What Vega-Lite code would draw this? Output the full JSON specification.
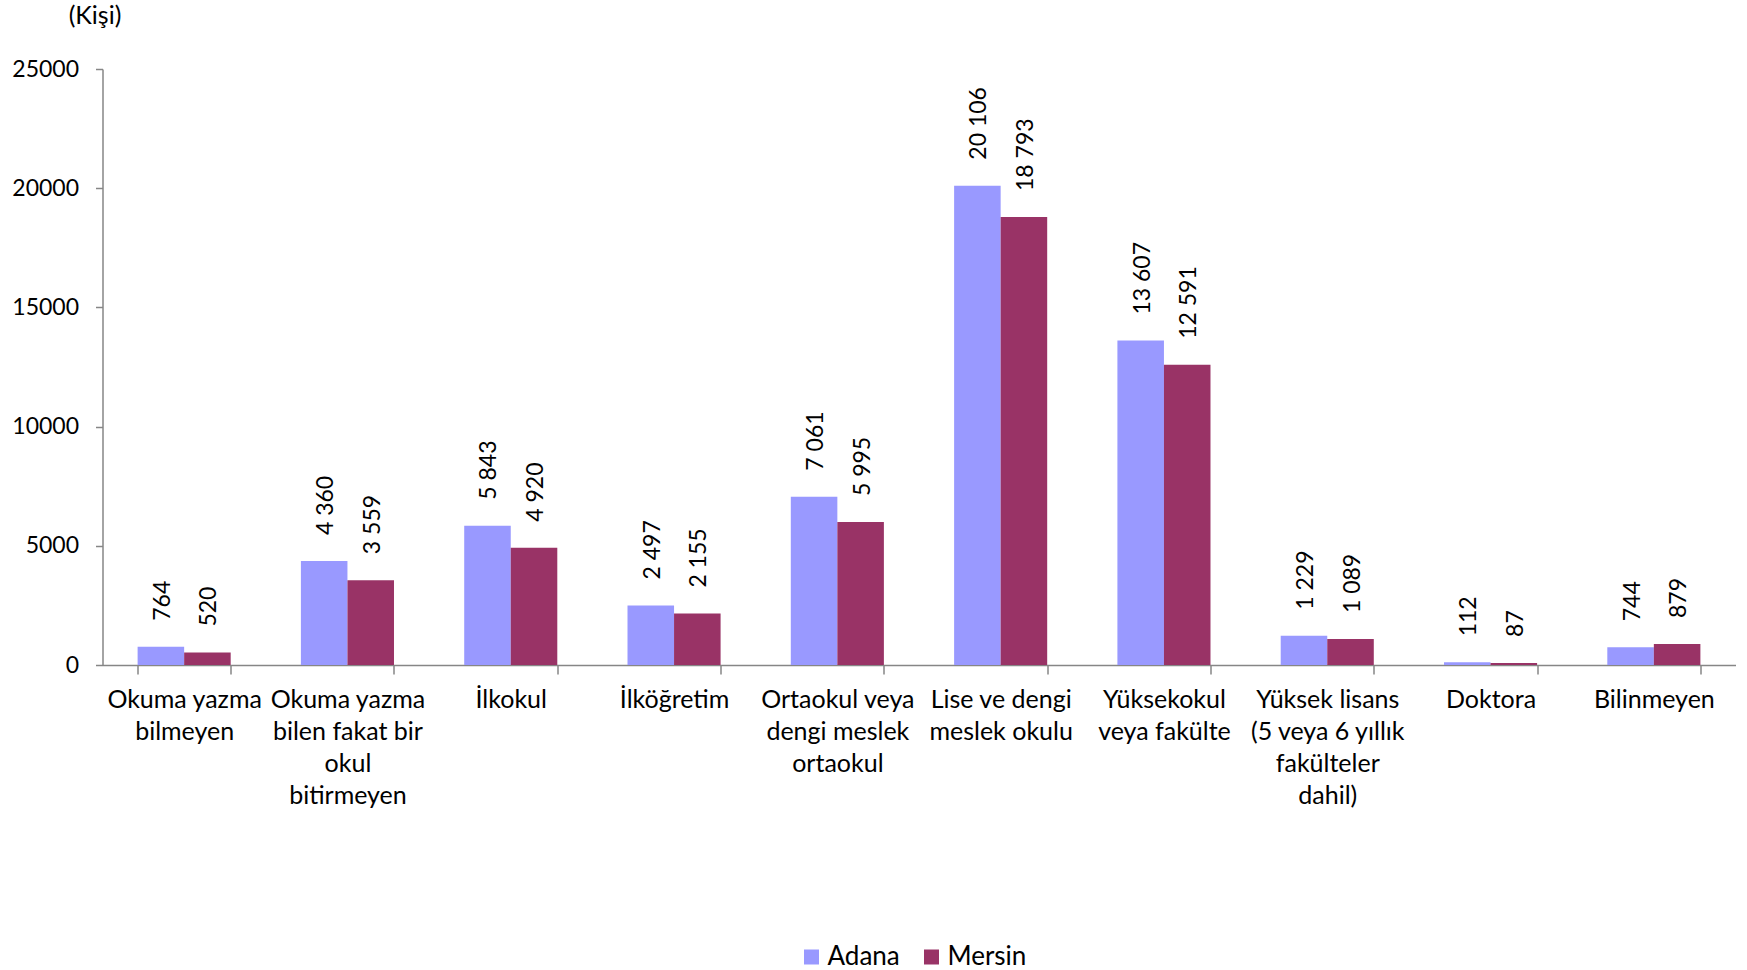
{
  "$schema": "https://vega.github.io/schema/vega-lite/v6.json",
  "width": 1633,
  "height": 596,
  "autosize": {"type": "none"},
  "padding": {"left": 102.5, "top": 69, "right": 11.5, "bottom": 305},
  "background": "white",
  "config": {
    "view": {"stroke": null},
    "font": "Lato",
    "locale": {"number": {"decimal": ",", "thousands": " ", "grouping": [3], "currency": ["", ""]}}
  },
  "data": {"values": [
    {"kategori": "Okuma yazma bilmeyen", "il": "Adana", "kisi": 764},
    {"kategori": "Okuma yazma bilmeyen", "il": "Mersin", "kisi": 520},
    {"kategori": "Okuma yazma bilen fakat bir okul bitirmeyen", "il": "Adana", "kisi": 4360},
    {"kategori": "Okuma yazma bilen fakat bir okul bitirmeyen", "il": "Mersin", "kisi": 3559},
    {"kategori": "İlkokul", "il": "Adana", "kisi": 5843},
    {"kategori": "İlkokul", "il": "Mersin", "kisi": 4920},
    {"kategori": "İlköğretim", "il": "Adana", "kisi": 2497},
    {"kategori": "İlköğretim", "il": "Mersin", "kisi": 2155},
    {"kategori": "Ortaokul veya dengi meslek ortaokul", "il": "Adana", "kisi": 7061},
    {"kategori": "Ortaokul veya dengi meslek ortaokul", "il": "Mersin", "kisi": 5995},
    {"kategori": "Lise ve dengi meslek okulu", "il": "Adana", "kisi": 20106},
    {"kategori": "Lise ve dengi meslek okulu", "il": "Mersin", "kisi": 18793},
    {"kategori": "Yüksekokul veya fakülte", "il": "Adana", "kisi": 13607},
    {"kategori": "Yüksekokul veya fakülte", "il": "Mersin", "kisi": 12591},
    {"kategori": "Yüksek lisans (5 veya 6 yıllık fakülteler dahil)", "il": "Adana", "kisi": 1229},
    {"kategori": "Yüksek lisans (5 veya 6 yıllık fakülteler dahil)", "il": "Mersin", "kisi": 1089},
    {"kategori": "Doktora", "il": "Adana", "kisi": 112},
    {"kategori": "Doktora", "il": "Mersin", "kisi": 87},
    {"kategori": "Bilinmeyen", "il": "Adana", "kisi": 744},
    {"kategori": "Bilinmeyen", "il": "Mersin", "kisi": 879}
  ]},
  "encoding": {
    "x": {
      "field": "kategori", "type": "nominal", "sort": null,
      "scale": {"paddingInner": 0.43, "paddingOuter": 0.215},
      "axis": {
        "title": null,
        "labelAngle": 0,
        "labelFontSize": 25,
        "labelColor": "#000000",
        "labelLimit": 0,
        "labelOverlap": false,
        "labelBaseline": "top",
        "labelPadding": 13,
        "labelLineHeight": 32,
        "labelExpr": "({'Okuma yazma bilmeyen': ['Okuma yazma','bilmeyen'], 'Okuma yazma bilen fakat bir okul bitirmeyen': ['Okuma yazma','bilen fakat bir','okul','bitirmeyen'], 'Ortaokul veya dengi meslek ortaokul': ['Ortaokul veya','dengi meslek','ortaokul'], 'Lise ve dengi meslek okulu': ['Lise ve dengi','meslek okulu'], 'Yüksekokul veya fakülte': ['Yüksekokul','veya fakülte'], 'Yüksek lisans (5 veya 6 yıllık fakülteler dahil)': ['Yüksek lisans','(5 veya 6 yıllık','fakülteler','dahil)']})[datum.value] || datum.value",
        "tickBand": "extent",
        "tickSize": 9,
        "tickColor": "#868686",
        "domainColor": "#868686",
        "domainWidth": 1.5,
        "tickWidth": 1.5
      }
    },
    "xOffset": {"field": "il", "type": "nominal", "sort": ["Adana", "Mersin"], "scale": {"paddingInner": 0, "paddingOuter": 0}},
    "y": {
      "field": "kisi", "type": "quantitative",
      "scale": {"domain": [0, 25000], "nice": false},
      "axis": {
        "title": "(Kişi)",
        "titleAngle": 0,
        "titleFontSize": 25,
        "titleFontWeight": "normal",
        "titleColor": "#000000",
        "titleAlign": "center",
        "titleBaseline": "middle",
        "titleX": -8,
        "titleY": -54,
        "values": [0, 5000, 10000, 15000, 20000, 25000],
        "format": "d",
        "labelFontSize": 23,
        "labelColor": "#000000",
        "labelPadding": 17,
        "tickSize": 7,
        "tickColor": "#868686",
        "domainColor": "#868686",
        "domainWidth": 1.5,
        "tickWidth": 1.5,
        "grid": false
      }
    }
  },
  "layer": [
    {
      "mark": {"type": "bar"},
      "encoding": {
        "color": {
          "field": "il", "type": "nominal",
          "scale": {"domain": ["Adana", "Mersin"], "range": ["#9999FF", "#993366"]},
          "legend": {
            "title": null,
            "orient": "none",
            "direction": "horizontal",
            "legendX": 696,
            "legendY": 875,
            "symbolType": "square",
            "symbolSize": 225,
            "symbolStrokeWidth": 0,
            "labelFontSize": 26,
            "labelColor": "#000000",
            "labelOffset": 3,
            "columnPadding": 18
          }
        }
      }
    },
    {
      "mark": {"type": "text", "angle": 270, "align": "left", "baseline": "middle", "dx": 26, "dy": 2, "fontSize": 23, "color": "#000000"},
      "encoding": {
        "text": {"field": "kisi", "type": "quantitative", "format": ",d"}
      }
    }
  ]
}
